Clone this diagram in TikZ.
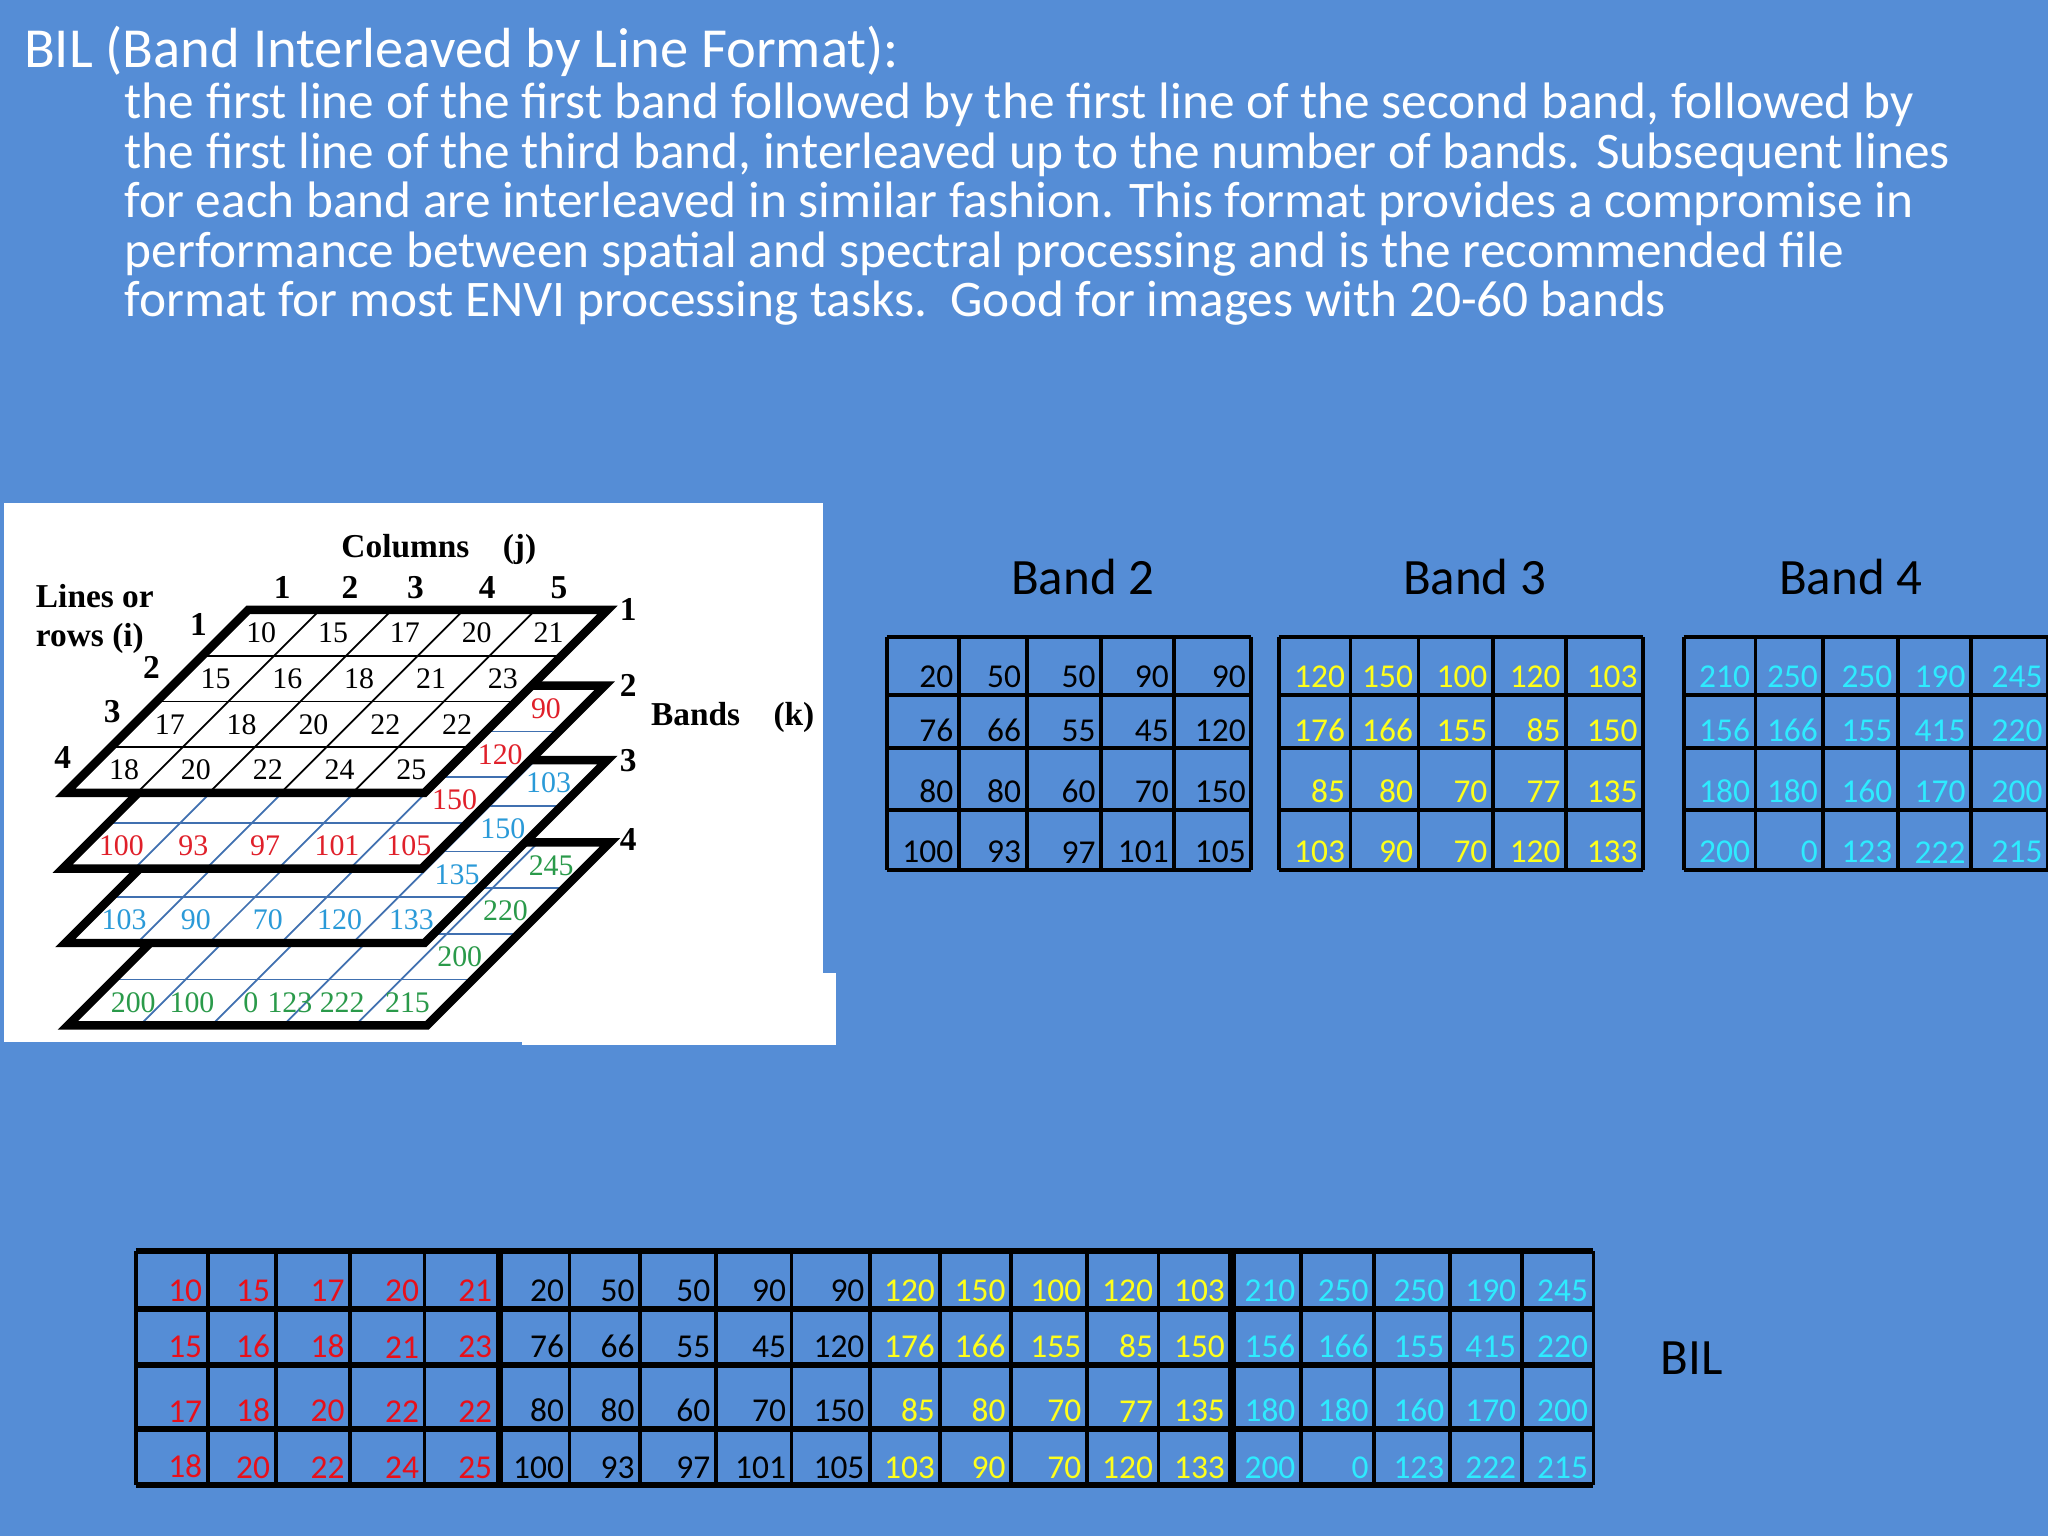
\documentclass[tikz,border=0pt]{standalone}
\usepackage{fontspec}
\setmainfont{Carlito}
\newfontfamily\tms{Liberation Serif}
\definecolor{bg}{HTML}{558DD6}
\definecolor{tred}{HTML}{E8101A}
\definecolor{tyel}{HTML}{FFFF1A}
\definecolor{tcyn}{HTML}{2EEBFF}
\definecolor{pred}{HTML}{E0202A}
\definecolor{pblu}{HTML}{2A9AD8}
\definecolor{pgrn}{HTML}{2A9A4A}
\definecolor{pline}{HTML}{4070B0}
\tikzset{
  numt/.style={font=\fontsize{9.5}{10}\selectfont, anchor=south east, inner sep=1pt},
  pnum/.style={font=\tms\fontsize{8.5}{9}\selectfont, inner sep=0pt},
  lbl/.style={font=\tms\bfseries\fontsize{9.5}{11}\selectfont, inner sep=0pt, align=left},
  tline/.style={line width=1.1pt, black},
}
\newcommand\myplane[3]{%
  \fill[white] (#1,#2) -- ++(275,0) -- ++(140,-140) -- ++(-275,0) -- cycle;
  \foreach \k in {1,...,4} {\draw[#3, line width=0.5pt] ({#1+55*\k},#2) -- ++(140,-140);}
  \foreach \k in {1,2,3} {\draw[#3, line width=0.5pt] ({#1+35*\k},{#2-35*\k}) -- ++(275,0);}
  \draw[line width=2.4pt, line join=miter] (#1,#2) -- ++(275,0) -- ++(140,-140) -- ++(-275,0) -- cycle;
}
% cell label: x0, yb, row, col, text, colour
\newcommand\pcell[6]{%
  \node[pnum, text=#6] at ({#1 + 140 - 35*(#3-0.5) + 55*(#4-0.5)}, {#2 - 140 + 35*(#3-0.5)}) {#5};
}
\begin{document}
\begin{tikzpicture}[x=0.013061cm, y=-0.013061cm]
\fill[bg] (0,0) rectangle (1568,1176);
\useasboundingbox (0,0) rectangle (1568,1176);

\node[anchor=west, text=white, font=\fontsize{16.1}{18}\selectfont, inner sep=0pt] (title) at (18,39) {BIL (Band Interleaved by Line Format):};
\node[anchor=north west, text=white, align=left, font=\fontsize{14.6}{14.1}\selectfont, inner sep=0pt] (body) at (95,63)
{the first line of the first band followed by the first line of the second band, followed by\\
the first line of the third band, interleaved up to the number of bands. Subsequent lines\\
for each band are interleaved in similar fashion. This format provides a compromise in\\
performance between spatial and spectral processing and is the recommended file\\
format for most ENVI processing tasks.\ \ Good for images with 20-60 bands};

% ---------- left picture ----------
\fill[white] (3,385) rectangle (630,798);
\fill[white] (400,745) rectangle (640,800);
\myplane{52}{785}{pline}
\myplane{50}{722}{pline}
\myplane{48}{665}{pline}
\myplane{50}{607}{black}
% band 1
\foreach \rowv [count=\ri] in {{10,15,17,20,21},{15,16,18,21,23},{17,18,20,22,22},{18,20,22,24,25}} {
  \foreach \v [count=\ci] in \rowv { \pcell{50}{607}{\ri}{\ci}{\v}{black} }
}
% band 2
\pcell{48}{665}{1}{5}{90}{pred}
\pcell{48}{665}{2}{5}{120}{pred}
\pcell{48}{665}{3}{5}{150}{pred}
\foreach \v [count=\ci] in {100,93,97,101,105} { \pcell{48}{665}{4}{\ci}{\v}{pred} }
% band 3
\pcell{50}{722}{1}{5}{103}{pblu}
\pcell{50}{722}{2}{5}{150}{pblu}
\pcell{50}{722}{3}{5}{135}{pblu}
\foreach \v [count=\ci] in {103,90,70,120,133} { \pcell{50}{722}{4}{\ci}{\v}{pblu} }
% band 4
\pcell{52}{785}{1}{5}{245}{pgrn}
\pcell{52}{785}{2}{5}{220}{pgrn}
\pcell{52}{785}{3}{5}{200}{pgrn}
\foreach \v/\xx in {200/102,100/147,0/192,123/222,222/262,215/312} { \node[pnum, text=pgrn] (g\v) at (\xx,768) {\v}; }

\node[lbl] (cols) at (336,421) {Columns\quad(j)};
\foreach \n/\xx in {1/216,2/268,3/318,4/373,5/428} { \node[lbl] (c\n) at (\xx,450) {\n}; }
\node[lbl, anchor=west] (lines) at (27,474) {Lines or\\rows (i)};
\node[lbl] (r1) at (152,478) {1};
\node[lbl] (r2) at (116,511) {2};
\node[lbl] (r3) at (86,545) {3};
\node[lbl] (r4) at (48,580) {4};
\foreach \n/\yy in {1/467,2/525,3/582,4/643} { \node[lbl] (b\n) at (481,\yy) {\n}; }
\node[lbl] (bands) at (561,549) {Bands\quad(k)};

% ---------- band tables ----------
\foreach \bx/\bn/\bc/\hx/\vals in {
  679/2/black/150/{{20,50,50,90,90},{76,66,55,45,120},{80,80,60,70,150},{100,93,97,101,105}},
  979/3/tyel/150/{{120,150,100,120,103},{176,166,155,85,150},{85,80,70,77,135},{103,90,70,120,133}},
  1289/4/tcyn/128/{{210,250,250,190,245},{156,166,155,415,220},{180,180,160,170,200},{200,0,123,222,215}}} {
  \node[font=\fontsize{14.5}{16}\selectfont, text=black] (bh\bn) at (\bx+\hx,442) {Band \bn};
  \foreach \rowv [count=\ri] in \vals {
    \foreach \v [count=\ci] in \rowv {
      \pgfmathsetmacro\xr{\bx+{55,107,164,220,279}[\ci-1]}
      \pgfmathsetmacro\yb{{532,573,620,666}[\ri-1]}
      \node[numt, text=\bc] (t\bn-\ri-\ci) at (\xr-1,\yb-2) {\v};
    }
  }
  \foreach \yy in {488,532,573,620,666} { \draw[tline] (\bx,\yy) -- (\bx+279,\yy); }
  \foreach \xx in {0,55,107,164,220,279} { \draw[tline] (\bx+\xx,488) -- (\bx+\xx,666); }
}

% ---------- BIL table ----------
\def\bilx{{159,211,268,325,381,436,490,548,606,666,720,774,832,887,942,996,1052,1110,1165,1220}}
\foreach \rowv [count=\ri] in {
  {10,15,17,20,21,20,50,50,90,90,120,150,100,120,103,210,250,250,190,245},
  {15,16,18,21,23,76,66,55,45,120,176,166,155,85,150,156,166,155,415,220},
  {17,18,20,22,22,80,80,60,70,150,85,80,70,77,135,180,180,160,170,200},
  {18,20,22,24,25,100,93,97,101,105,103,90,70,120,133,200,0,123,222,215}} {
  \foreach \v [count=\ci] in \rowv {
    \pgfmathsetmacro\xr{\bilx[\ci-1]}
    \pgfmathsetmacro\yb{{1002,1045,1094,1137}[\ri-1]}
    \pgfmathtruncatemacro\grp{int((\ci-1)/5)}
    \ifcase\grp \def\cc{tred}\or \def\cc{black}\or \def\cc{tyel}\else \def\cc{tcyn}\fi
    \node[numt, text=\cc] (u-\ri-\ci) at (\xr-1,\yb-2) {\v};
  }
}
\foreach \yy in {958,1002,1045,1094,1137} { \draw[line width=1.6pt] (104,\yy) -- (1220,\yy); }
\foreach \xx in {104,159,211,268,325,381,384,436,490,548,606,666,720,774,832,887,942,945,996,1052,1110,1165,1220} { \draw[tline] (\xx,958) -- (\xx,1137); }
\node[font=\fontsize{14.5}{16}\selectfont] (bil) at (1295,1040) {BIL};
\end{tikzpicture}
\end{document}
